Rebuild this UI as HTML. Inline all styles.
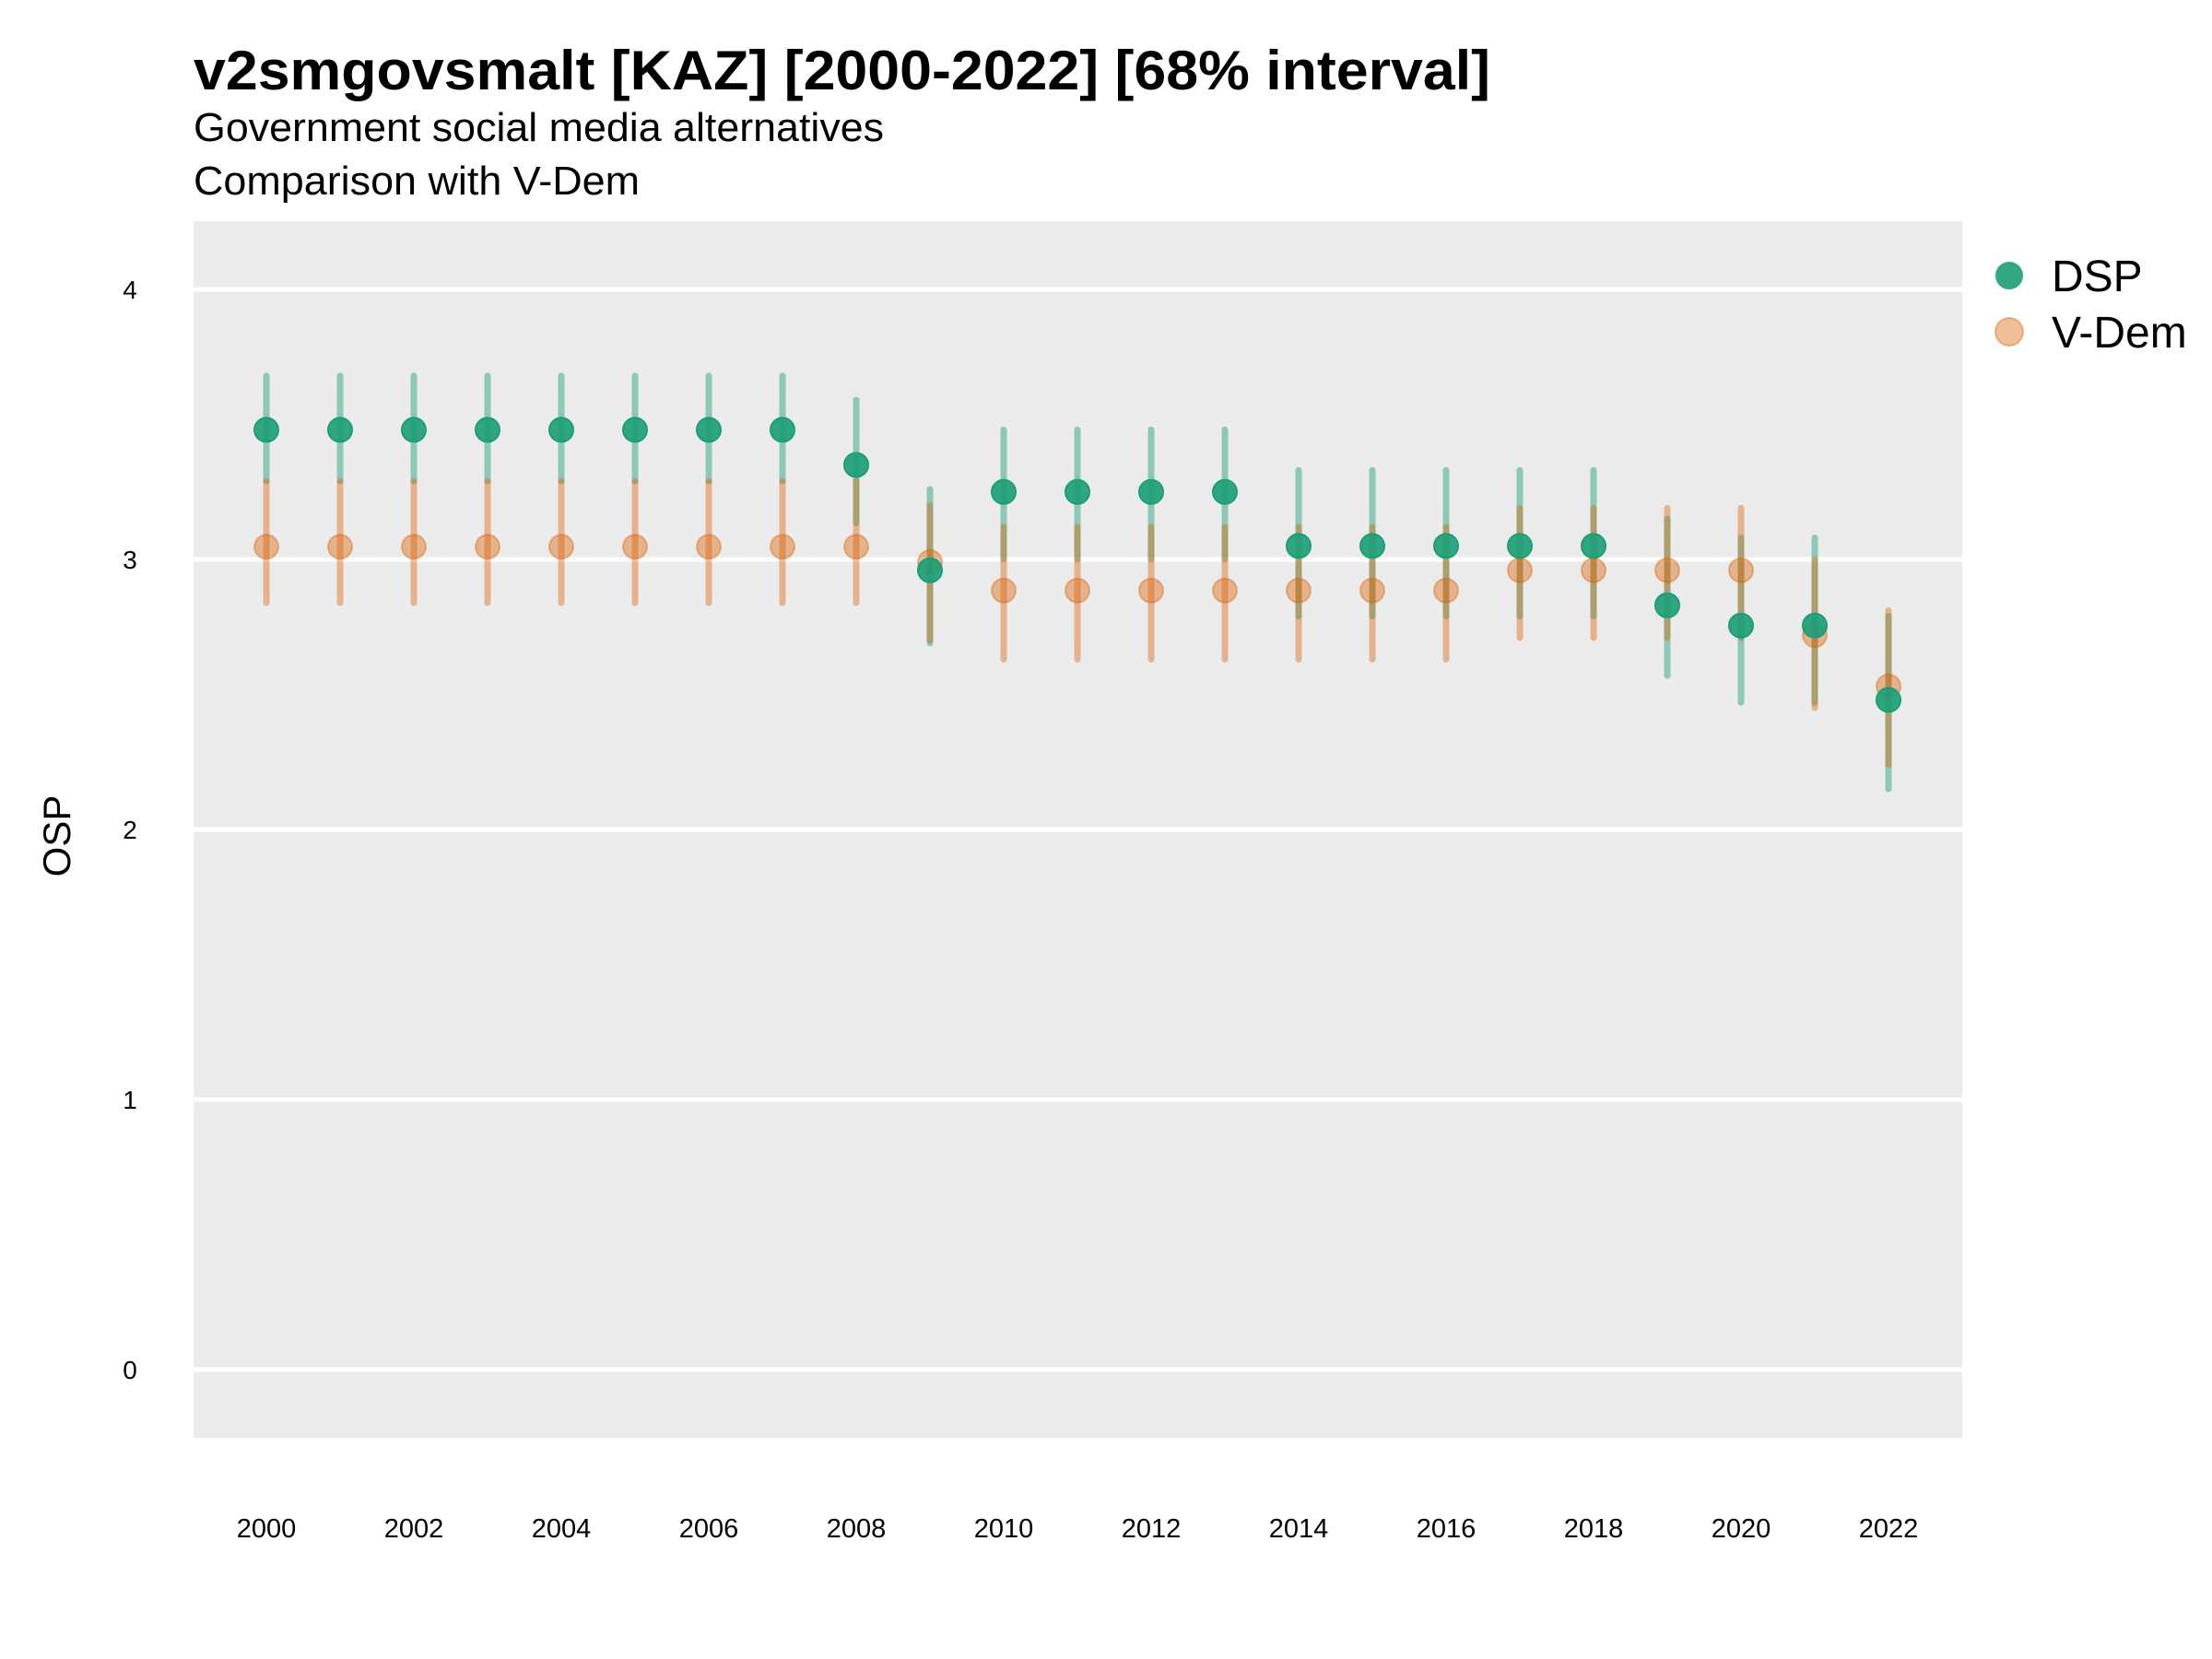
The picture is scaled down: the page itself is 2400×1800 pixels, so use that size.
<!DOCTYPE html>
<html><head><meta charset="utf-8"><style>
body{margin:0;background:#fff;}
svg{display:block;font-family:"Liberation Sans",sans-serif;}
</style></head><body>
<svg id="chart" width="2400" height="1800" viewBox="0 0 2400 1800">
<text x="210" y="97" font-size="60" font-weight="bold" fill="#000" textLength="1407" lengthAdjust="spacingAndGlyphs">v2smgovsmalt [KAZ] [2000-2022] [68% interval]</text>
<text x="210" y="153" font-size="44" fill="#000" textLength="749" lengthAdjust="spacingAndGlyphs">Government social media alternatives</text>
<text x="210" y="211" font-size="44" fill="#000" textLength="484" lengthAdjust="spacingAndGlyphs">Comparison with V-Dem</text>
<rect x="210" y="240" width="1919" height="1320" fill="#ebebeb"/>
<g id="grid"></g>
<g id="yticks"></g>
<g id="xticks"></g>
<g id="marks"></g>
<text transform="translate(76,907) rotate(-90)" text-anchor="middle" font-size="42" fill="#000">OSP</text>
<g>
<circle cx="2180" cy="299" r="15" fill="#1b9e77" fill-opacity="0.9"/>
<text x="2226" y="316" font-size="48">DSP</text>
<circle cx="2180" cy="360" r="15" fill="#d95f02" fill-opacity="0.4" stroke="#d95f02" stroke-opacity="0.4" stroke-width="2"/>
<text x="2226" y="377" font-size="48">V-Dem</text>
</g>
</svg>
<script>
const years=[2000,2001,2002,2003,2004,2005,2006,2007,2008,2009,2010,2011,2012,2013,2014,2015,2016,2017,2018,2019,2020,2021,2022];
const dspMid=[3.48,3.48,3.48,3.48,3.48,3.48,3.48,3.48,3.35,2.96,3.25,3.25,3.25,3.25,3.05,3.05,3.05,3.05,3.05,2.83,2.755,2.755,2.48];
const dspHi=[3.68,3.68,3.68,3.68,3.68,3.68,3.68,3.68,3.59,3.26,3.48,3.48,3.48,3.48,3.33,3.33,3.33,3.33,3.33,3.15,3.08,3.08,2.79];
const dspLo=[3.29,3.29,3.29,3.29,3.29,3.29,3.29,3.29,3.135,2.69,3.0,3.0,3.0,3.0,2.79,2.79,2.79,2.79,2.79,2.57,2.47,2.47,2.15];
const vdMid=[3.047,3.047,3.047,3.047,3.047,3.047,3.047,3.047,3.047,2.99,2.885,2.885,2.885,2.885,2.885,2.885,2.885,2.96,2.96,2.96,2.96,2.72,2.53];
const vdHi=[3.29,3.29,3.29,3.29,3.29,3.29,3.29,3.29,3.29,3.2,3.12,3.12,3.12,3.12,3.12,3.12,3.12,3.19,3.19,3.19,3.19,3.0,2.81];
const vdLo=[2.84,2.84,2.84,2.84,2.84,2.84,2.84,2.84,2.84,2.70,2.63,2.63,2.63,2.63,2.63,2.63,2.63,2.71,2.71,2.71,2.71,2.45,2.24];
const yTicks=[0,1,2,3,4];
const xTickYears=[2000,2002,2004,2006,2008,2010,2012,2014,2016,2018,2020,2022];
const NS='http://www.w3.org/2000/svg';
const X=y=>289+(y-2000)*80;
const Y=v=>1486-v*293;
function mk(tag,attrs,parent){const e=document.createElementNS(NS,tag);for(const k in attrs)e.setAttribute(k,attrs[k]);parent.appendChild(e);return e;}
const grid=document.getElementById('grid'),yt=document.getElementById('yticks'),xt=document.getElementById('xticks'),marks=document.getElementById('marks');
yTicks.forEach(v=>{
 const l=mk('line',{x1:210,x2:2129,y1:Y(v),y2:Y(v),stroke:'#fff','stroke-width':5},grid);
 
 
 const t=mk('text',{x:141,y:Y(v)+10,'text-anchor':'middle','font-size':28},yt);t.textContent=v;
 
 
});
xTickYears.forEach(y=>{
 const t=mk('text',{x:X(y),y:1668,'text-anchor':'middle','font-size':29},xt);t.textContent=y;
 
 
});
years.forEach((yr,i)=>{
 const a=mk('line',{x1:X(yr),x2:X(yr),y1:Y(dspLo[i]),y2:Y(dspHi[i]),stroke:'#1b9e77','stroke-opacity':0.45,'stroke-width':7,'stroke-linecap':'round'},marks);
 
 
 const b=mk('line',{x1:X(yr),x2:X(yr),y1:Y(vdLo[i]),y2:Y(vdHi[i]),stroke:'#d95f02','stroke-opacity':0.4,'stroke-width':7,'stroke-linecap':'round'},marks);
 
 
});
years.forEach((yr,i)=>{
 const c=mk('circle',{cx:X(yr),cy:Y(vdMid[i]),r:13,fill:'#d95f02','fill-opacity':0.4,stroke:'#d95f02','stroke-opacity':0.4,'stroke-width':2},marks);
 
 
 const d=mk('circle',{cx:X(yr),cy:Y(dspMid[i]),r:13,fill:'#1b9e77','fill-opacity':0.9,stroke:'#1b9e77','stroke-width':2},marks);
 
 
});
</script>
</body></html>
